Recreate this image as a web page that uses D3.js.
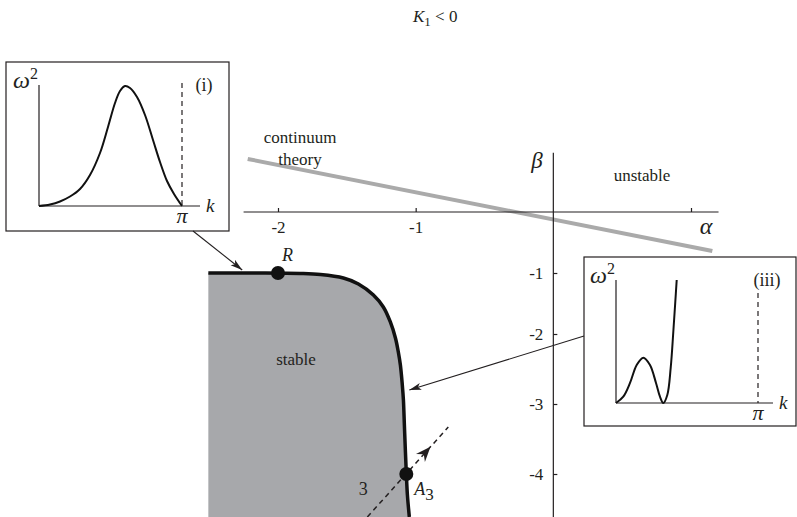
<!DOCTYPE html>
<html>
<head>
<meta charset="utf-8">
<script src="https://cdn.jsdelivr.net/npm/d3@7"></script>
</head>
<body style="margin:0">
<svg id="chart" width="797" height="517" style="display:block;font-family:'Liberation Serif'"></svg>
<script>
// ---- tick values of the (alpha, beta) plane ----
const alphaTicks = [-2, -1, 1];
const betaTicks = [-1, -2, -3, -4];

// ---- boundary of the stable region (alpha, beta) ----
const boundaryAlpha = [-2.506, -2.128, -1.838, -1.692, -1.525, -1.416, -1.307, -1.235, -1.184, -1.147, -1.126, -1.111, -1.097, -1.089, -1.082, -1.075, -1.068, -1.060, -1.046];
const boundaryBeta  = [-1.0, -1.0, -1.008, -1.025, -1.082, -1.18, -1.361, -1.557, -1.803, -2.057, -2.257, -2.443, -2.729, -2.943, -3.3, -3.657, -3.986, -4.3, -4.614];

// ---- continuum-theory line ----
const continuumAlpha = [-2.22, 1.155];
const continuumBeta  = [0.87, -0.64];

// ---- loading path 3 (dashed) and its arrow position ----
const pathAlpha = [-1.351, -0.763];
const pathBeta  = [-4.614, -3.329];
const pathArrowAt = 0.78;

// ---- marked points ----
const pointNames = ["R", "A"];
const pointSubs  = ["", "3"];
const pointAlpha = [-2.0, -1.068];
const pointBeta  = [-1.0, -4.0];

// ---- dispersion curves of the insets (k in [0, pi], omega^2 normalised) ----
const dispKi = [0, 0.2417, 0.4614, 0.681, 0.9007, 1.1204, 1.3401, 1.5159, 1.6697, 1.7795, 1.8894, 1.9992, 2.153, 2.3288, 2.5045, 2.6583, 2.8121, 2.9659, Math.PI];
const dispWi = [0, 0.0125, 0.0375, 0.079, 0.1417, 0.2583, 0.4417, 0.6583, 0.8583, 0.9583, 1.0, 0.9833, 0.9083, 0.7583, 0.55, 0.3667, 0.2083, 0.1, 0];
const dispKiii = [0, 0.161, 0.31, 0.458, 0.604, 0.752, 0.885, 0.973, 1.046, 1.135, 1.21, 1.268, 1.312, 1.343];
const dispWiii = [0, 0.0525, 0.167, 0.317, 0.378, 0.317, 0.167, 0.0525, 0, 0.067, 0.292, 0.594, 0.844, 1.025];

const ink = "#231f20";
const FONT = "Liberation Serif";
const svg = d3.select("#chart");

const x = d3.scaleLinear().domain([-2, 1]).range([278, 691]);
// the beta axis is drawn with a slightly wider spacing below -2
const y = d3.scaleLinear().domain([0, -2, -5]).range([212, 334, 544]);
const betaBottom = y.invert(517);

function label(parent, px, py, size, str, opts = {}) {
  const t = parent.append("text").attr("x", px).attr("y", py)
    .style("font-family", `"${FONT}"`).attr("font-size", size).attr("fill", ink)
    .attr("text-anchor", opts.anchor || "start");
  if (opts.italic) t.attr("font-style", "italic");
  if (str !== null) t.text(str);
  return t;
}

// arrow marker for the connectors
const defs = svg.append("defs");
defs.append("marker")
  .attr("id", "conn")
  .attr("viewBox", "0 0 12 8")
  .attr("refX", 12).attr("refY", 4)
  .attr("markerWidth", 12).attr("markerHeight", 8)
  .attr("markerUnits", "userSpaceOnUse")
  .attr("orient", "auto")
  .append("path")
  .attr("d", "M0,0.5 L12,4 L0,7.5 L3,4 Z")
  .attr("fill", ink);

// ---- stable region ----
const boundary = d3.zip(boundaryAlpha, boundaryBeta);
const bLine = d3.line().x(d => x(d[0])).y(d => y(d[1])).curve(d3.curveCatmullRom.alpha(0.5));
svg.append("path")
  .attr("d", bLine(boundary) + `L${x(boundaryAlpha[0])},${y(betaBottom)}Z`)
  .attr("fill", "#a7a8ab");

// ---- continuum theory line ----
svg.append("path")
  .attr("d", d3.line().x(d => x(d[0])).y(d => y(d[1]))(d3.zip(continuumAlpha, continuumBeta)))
  .attr("stroke", "#aaaaaa").attr("stroke-width", 4).attr("fill", "none");

// ---- axes ----
const xAxis = d3.axisBottom(x).tickValues(alphaTicks).tickSize(-4).tickPadding(9)
  .tickFormat(d => d === 1 ? "" : String(d));
const gx = svg.append("g").attr("transform", `translate(0,${y(0)})`).call(xAxis);
gx.select(".domain").remove();
svg.append("line").attr("x1", x(-2.25)).attr("x2", x(1.2)).attr("y1", y(0)).attr("y2", y(0))
  .attr("stroke", ink).attr("stroke-width", 1.2);

const yAxis = d3.axisLeft(y).tickValues(betaTicks).tickSize(-4).tickPadding(10)
  .tickFormat(d => String(d));
const gy = svg.append("g").attr("transform", `translate(${x(0)},0)`).call(yAxis);
gy.select(".domain").remove();
svg.append("line").attr("x1", x(0)).attr("x2", x(0)).attr("y1", y(0.97)).attr("y2", y(betaBottom))
  .attr("stroke", ink).attr("stroke-width", 1.2);

[gx, gy].forEach(g => {
  g.attr("font-family", null).attr("font-size", null);
  g.selectAll(".tick line").attr("stroke", ink).attr("stroke-width", 1.2);
  g.selectAll(".tick text").attr("font-size", 17).style("font-family", `"${FONT}"`).attr("fill", ink);
});

label(svg, 706, 234, 24, "α", { anchor: "middle", italic: true });
label(svg, 537, 168, 23, "β", { anchor: "middle", italic: true });

// ---- stability boundary stroke ----
svg.append("path").attr("d", bLine(boundary))
  .attr("fill", "none").attr("stroke", "#111").attr("stroke-width", 3.5);

// ---- dashed loading path with arrowhead ----
const pA = [x(pathAlpha[0]), y(pathBeta[0])], pB = [x(pathAlpha[1]), y(pathBeta[1])];
svg.append("line").attr("x1", pA[0]).attr("y1", pA[1]).attr("x2", pB[0]).attr("y2", pB[1])
  .attr("stroke", ink).attr("stroke-width", 1.5).attr("stroke-dasharray", "5,4");
const ang = Math.atan2(pB[1] - pA[1], pB[0] - pA[0]) * 180 / Math.PI;
const tip = [pA[0] + (pB[0] - pA[0]) * pathArrowAt, pA[1] + (pB[1] - pA[1]) * pathArrowAt];
svg.append("path").attr("d", "M0,0 L-15,-6 L-10,0 L-15,6 Z")
  .attr("transform", `translate(${tip[0]},${tip[1]}) rotate(${ang})`).attr("fill", ink);
label(svg, x(pathAlpha[0]) - 4, y(pathBeta[0]) - 22, 18, "3", { anchor: "middle" });

// ---- marked points ----
pointNames.forEach((n, i) => {
  const cx = x(pointAlpha[i]), cy = y(pointBeta[i]);
  svg.append("circle").attr("cx", cx).attr("cy", cy).attr("r", 7).attr("fill", "#111");
  const t = i === 0 ? label(svg, cx + 4, cy - 12, 18, null, { italic: true })
                    : label(svg, cx + 8, cy + 21, 18, null, { italic: true });
  t.append("tspan").text(n);
  if (pointSubs[i]) t.append("tspan").attr("font-style", "normal").attr("font-size", 17).attr("dy", 5).text(pointSubs[i]);
});

// ---- region labels ----
label(svg, 300, 143, 17, "continuum", { anchor: "middle" });
label(svg, 300, 165, 17, "theory", { anchor: "middle" });
label(svg, 642, 181, 17, "unstable", { anchor: "middle" });
label(svg, 296, 365, 17, "stable", { anchor: "middle" });

// ---- title ----
const title = label(svg, 413, 22, 17, null);
title.append("tspan").attr("font-style", "italic").text("K");
title.append("tspan").attr("font-size", 13).attr("dy", 4).text("1");
title.append("tspan").attr("dy", -4).text(" < 0");

// ---- inset panels ----
function inset(box, kRange, wRange, axisTop, axisRight, kData, wData, tag, tagX, dashTop) {
  const g = svg.append("g");
  g.append("rect").attr("x", box[0]).attr("y", box[1]).attr("width", box[2] - box[0]).attr("height", box[3] - box[1])
    .attr("fill", "#fff").attr("stroke", ink).attr("stroke-width", 1.2);
  const kx = d3.scaleLinear().domain([0, Math.PI]).range(kRange);
  const wy = d3.scaleLinear().domain([0, 1]).range(wRange);
  g.append("line").attr("x1", kx(0)).attr("x2", kx(0)).attr("y1", axisTop).attr("y2", wy(0))
    .attr("stroke", ink).attr("stroke-width", 1.2);
  g.append("line").attr("x1", kx(0)).attr("x2", axisRight).attr("y1", wy(0)).attr("y2", wy(0))
    .attr("stroke", ink).attr("stroke-width", 1.2);
  g.append("line").attr("x1", kx(Math.PI)).attr("x2", kx(Math.PI)).attr("y1", dashTop).attr("y2", wy(0))
    .attr("stroke", ink).attr("stroke-width", 1.2).attr("stroke-dasharray", "5,4");
  g.append("path")
    .attr("d", d3.line().x(d => kx(d[0])).y(d => wy(d[1])).curve(d3.curveCatmullRom.alpha(0.5))(d3.zip(kData, wData)))
    .attr("fill", "none").attr("stroke", "#111").attr("stroke-width", 2);
  const w = label(g, kx(0) - 26, axisTop + 3, 24, null, { italic: true });
  w.append("tspan").text("ω");
  w.append("tspan").attr("font-style", "normal").attr("font-size", 16).attr("dy", -9).text("2");
  label(g, kx(Math.PI), wy(0) + 17, 22, "π", { anchor: "middle", italic: true });
  label(g, axisRight + 6, wy(0) + 6, 19, "k", { italic: true });
  label(g, tagX, axisTop + 6, 18, tag, { anchor: "middle" });
}
inset([6, 62, 229, 231], [39, 182], [206, 86], 85, 200, dispKi, dispWi, "(i)", 204, 83);
inset([584, 257, 796, 426], [616, 758], [403, 283], 280, 773, dispKiii, dispWiii, "(iii)", 767, 293);

// ---- connectors from the insets to the boundary ----
svg.append("line").attr("x1", 193).attr("y1", 231).attr("x2", x(-2.26)).attr("y2", y(-0.95))
  .attr("stroke", ink).attr("stroke-width", 1.1).attr("marker-end", "url(#conn)");
svg.append("line").attr("x1", 584).attr("y1", 336).attr("x2", x(-1.046)).attr("y2", y(-2.8))
  .attr("stroke", ink).attr("stroke-width", 1.1).attr("marker-end", "url(#conn)");
</script>
</body>
</html>
